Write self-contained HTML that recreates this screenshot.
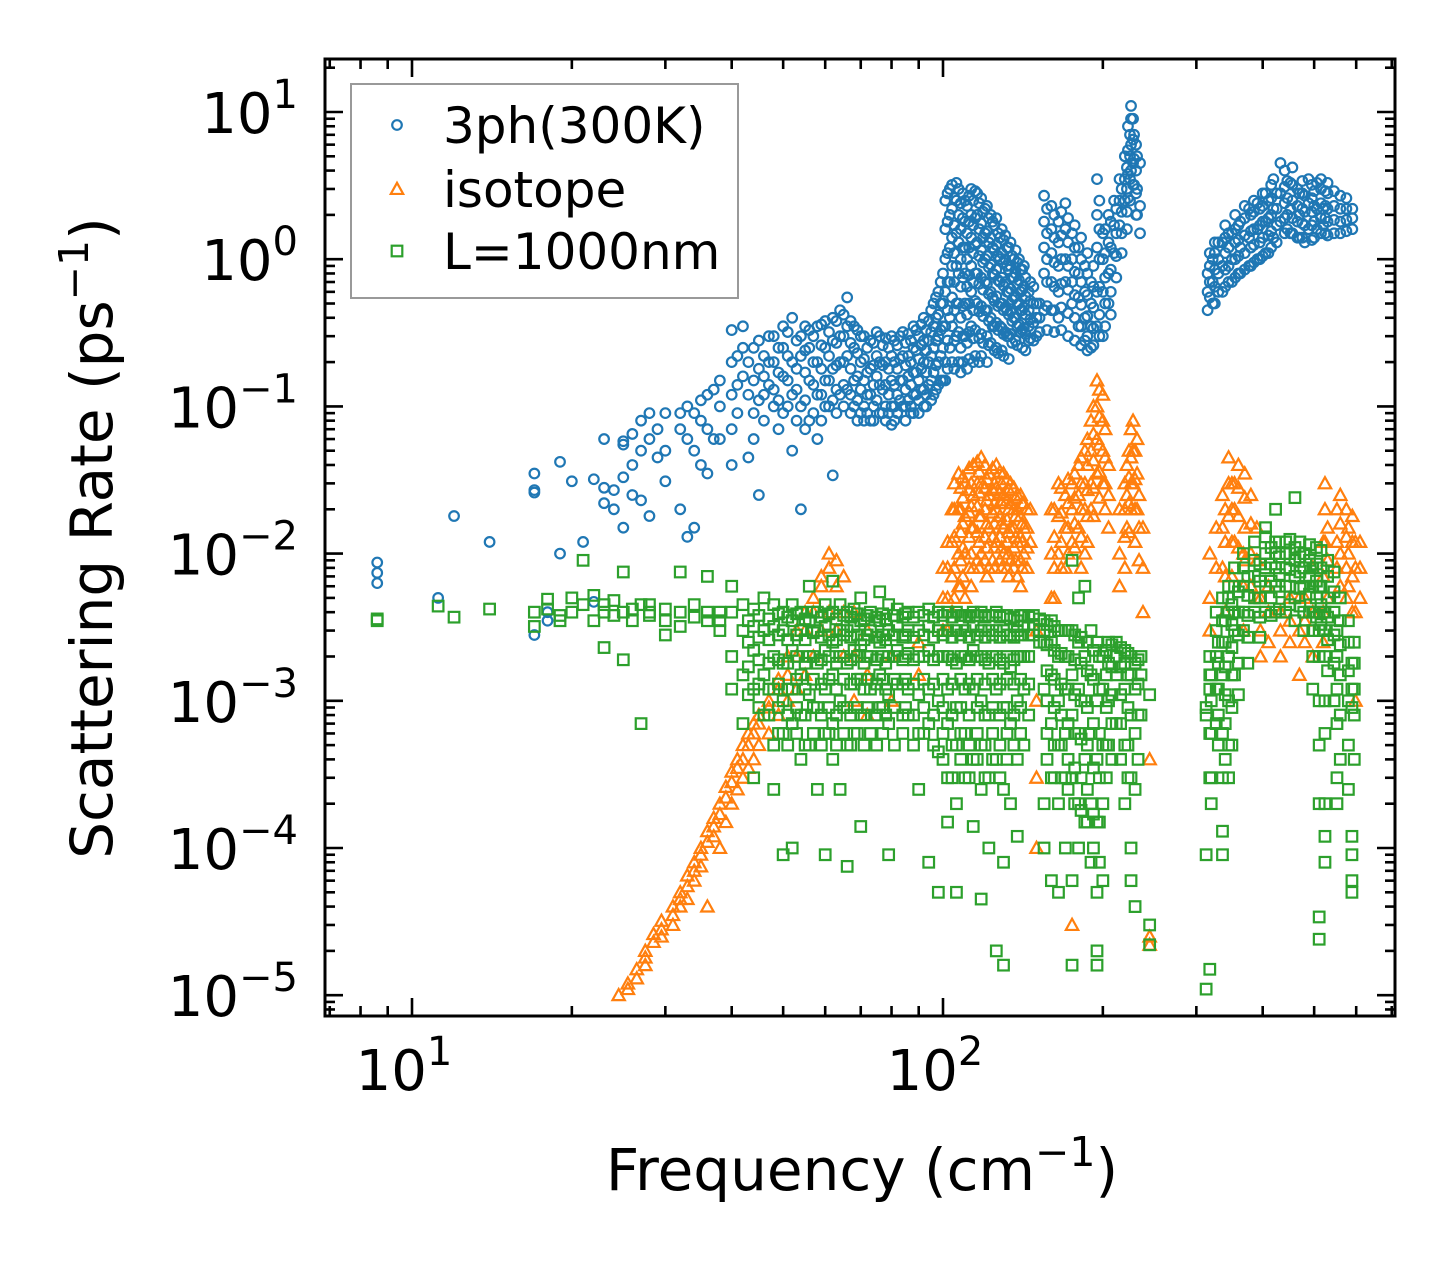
<!DOCTYPE html>
<html><head><meta charset="utf-8"><style>
html,body{margin:0;padding:0;background:#fff;}
svg{display:block;font-family:"DejaVu Sans","Liberation Sans",sans-serif;}
</style></head><body>
<svg id="chart" width="1455" height="1265" viewBox="0 0 1455 1265" xmlns="http://www.w3.org/2000/svg">
<g id="marks"></g>
<g id="axes"></g>
</svg>
<script>
// ---- data: frequencies (cm^-1) and scattering rates (ps^-1) per frequency column ----
const blueF = [8.6,11.2,12,14,17,18,19,20,21,22,23,24,25,26,27,28,29,30,32,33,34,35,36,37,38,40,41,42,43,45,47,50,52,54,56,58,60,62,64,66,68,70,73,76,80,84,88,92,96,100,103,106,110,113,116,120,124,128,132,136,140,145,150,155,160,165,170,175,180,185,190,195,200,205,210,215,220,223,226,229,232,235,315,322,336,350,363,377,391,405,419,432,451,469,488,506,520];
const blueR = [[0.0087,0.0074,0.0063],[0.005],[0.018],[0.012],[0.026,0.027,0.035,0.0028],[0.004,0.0035],[0.042,0.01],[0.031],[0.012],[0.032,0.0047],[0.06,0.028,0.022],[0.02,0.027],[0.055,0.058,0.033,0.015],[0.065,0.04,0.025],[0.08,0.05,0.023],[0.09,0.06,0.018],[0.07,0.045],[0.09,0.05,0.031],[0.09,0.07,0.02],[0.1,0.06,0.013],[0.09,0.05,0.015],[0.11,0.08,0.04],[0.12,0.07,0.035],[0.13,0.06],[0.15,0.1,0.06],[0.33,0.2,0.12,0.07,0.04],[0.22,0.14,0.09],[0.35,0.25,0.16],[0.2,0.12,0.045],[0.28,0.18,0.11,0.025],[0.3,0.2,0.14],[0.35,0.25,0.16,0.09],[0.4,0.2,0.12,0.05],[0.3,0.22,0.1,0.02],[0.33,0.25,0.15,0.08],[0.35,0.2,0.12,0.06],[0.38,0.25,0.15,0.1],[0.4,0.28,0.18,0.11,0.034],[0.45,0.3,0.2,0.12],[0.55,0.35,0.22,0.13],[0.35,0.25,0.15,0.1],[0.3,0.2,0.13,0.09],[0.28,0.18,0.12,0.08],[0.3,0.2,0.14,0.09],[0.3,0.22,0.15,0.1,0.075],[0.32,0.22,0.15,0.1],[0.35,0.25,0.17,0.12,0.09],[0.4,0.28,0.2,0.13,0.1],[0.5,0.35,0.25,0.17,0.12],[0.8,0.5,0.35,0.25,0.15],[3.0,2.0,1.2,0.7,0.4,0.25],[3.3,2.5,1.5,0.9,0.5,0.3],[2.5,1.8,1.2,0.8,0.5,0.3],[3.0,2.0,1.4,0.9,0.6,0.35],[2.8,2.0,1.3,0.8,0.5],[2.2,1.5,1.0,0.7,0.45],[1.8,1.2,0.8,0.55,0.35],[1.4,1.0,0.7,0.5,0.35],[1.2,0.9,0.6,0.45,0.3],[1.0,0.75,0.55,0.4],[0.85,0.6,0.45,0.32],[0.6,0.45,0.35,0.28],[0.5,0.4,0.3],[2.7,1.8,1.2,0.8,0.45],[2.3,1.6,1.1,0.7,0.45],[1.8,1.3,0.9,0.6,0.4],[2.4,1.6,1.0,0.7],[1.5,1.0,0.7,0.5],[1.2,0.8,0.55,0.35],[0.9,0.6,0.4,0.28],[0.7,0.5,0.35,0.25],[3.5,2.0,1.2,0.6,0.35],[1.5,1.0,0.6,0.3],[2.0,1.3,0.8,0.5],[2.5,1.7,1.1],[3.5,2.5,1.7],[5.0,3.5,2.5],[8,5.5,3.8,2.6],[11,9,6,4],[7,4.8,3.2],[5,3,2],[4.5,2.3,1.5],[0.45,0.6,0.8],[0.5,0.7,1.0],[0.6,0.9,1.3],[0.7,1.0,1.5],[0.8,1.2,1.8],[0.9,1.4,2.2],[1.0,1.6,2.4],[1.1,1.8,2.8],[1.4,2.2,3.5],[1.8,2.8,4.5],[1.5,2.2,3.3],[1.4,2.0,2.8],[1.6,2.4,3.5],[1.6,2.2,3.3],[1.7,2.2]];
const blueF2 = [44,46,48,49,51,53,55,57,59,61,63,65,67,69,71,72,74,75,77,78,79,81,82,83,85,86,87,89,90,91,93,94,95,97,98,99,101,102,104,105,107,108,109,111,112,114,115,117,118,119,121,122,123,125,126,127,129,130,131,133,134,135,137,138,139,141,142,143,146,148,152,157,162,167,172,177,182,187,192,197,202,207,212,217,222,225,228,231,318,325,330,340,345,355,360,370,380,385,395,400,410,415,425,440,445,455,465,475,480,495,500,515,525,530,545,560,575,590];
const blueR2 = [[0.25,0.15,0.09,0.06],[0.22,0.16,0.12,0.08],[0.3,0.2,0.13,0.1],[0.25,0.17,0.11,0.07],[0.32,0.22,0.15,0.1],[0.28,0.18,0.13,0.08],[0.35,0.24,0.17,0.11,0.07],[0.3,0.2,0.14,0.09],[0.36,0.26,0.18,0.12,0.08],[0.32,0.22,0.15,0.1],[0.38,0.27,0.19,0.13,0.09],[0.42,0.3,0.2,0.14,0.1],[0.38,0.27,0.18,0.12,0.09],[0.33,0.23,0.16,0.11,0.08],[0.3,0.21,0.15,0.1,0.08],[0.25,0.17,0.12,0.09],[0.27,0.19,0.14,0.1,0.08],[0.32,0.22,0.16,0.11],[0.26,0.19,0.13,0.09],[0.29,0.2,0.14,0.1,0.08],[0.25,0.18,0.12,0.09],[0.28,0.2,0.14,0.1,0.08],[0.26,0.18,0.12,0.09],[0.3,0.21,0.15,0.11],[0.27,0.19,0.13,0.1,0.08],[0.31,0.22,0.16,0.11],[0.28,0.2,0.14,0.1,0.09],[0.33,0.24,0.17,0.12],[0.3,0.21,0.15,0.11,0.09],[0.36,0.26,0.18,0.13],[0.33,0.24,0.17,0.12,0.1],[0.38,0.28,0.2,0.14],[0.45,0.32,0.22,0.15,0.11],[0.55,0.4,0.28,0.19,0.13],[0.6,0.42,0.3,0.2,0.14],[0.7,0.5,0.33,0.22,0.15],[2.5,1.6,1.0,0.6,0.35,0.2,0.15],[2.8,1.8,1.1,0.7,0.45,0.28,0.18],[3.2,2.2,1.4,0.9,0.55,0.35,0.2],[2.6,1.7,1.1,0.7,0.45,0.28,0.18],[3.0,2.0,1.3,0.8,0.5,0.32,0.2],[2.4,1.6,1.0,0.65,0.4,0.25,0.17],[2.8,1.9,1.2,0.75,0.48,0.3,0.2],[2.3,1.5,1.0,0.65,0.42,0.27,0.18],[2.7,1.8,1.2,0.78,0.5,0.32,0.21],[2.5,1.7,1.1,0.7,0.45,0.29,0.2],[2.9,1.9,1.25,0.8,0.52,0.33,0.22],[2.4,1.6,1.05,0.68,0.44,0.29,0.2],[2.6,1.75,1.15,0.75,0.48,0.31,0.22],[2.1,1.4,0.95,0.62,0.41,0.27],[2.3,1.55,1.05,0.68,0.45,0.3,0.2],[1.9,1.3,0.88,0.58,0.38,0.26],[2.0,1.4,0.92,0.6,0.4,0.27],[1.7,1.15,0.78,0.52,0.35,0.24],[1.9,1.25,0.85,0.56,0.37,0.25],[1.5,1.05,0.72,0.48,0.33,0.23],[1.6,1.1,0.75,0.5,0.34,0.24],[1.35,0.95,0.66,0.45,0.31,0.22],[1.45,1.0,0.7,0.47,0.32],[1.2,0.85,0.6,0.42,0.3,0.21],[1.3,0.9,0.63,0.44,0.31],[1.05,0.75,0.53,0.38,0.27],[1.15,0.8,0.56,0.4,0.28],[0.95,0.68,0.49,0.35,0.26],[1.0,0.72,0.5,0.36],[0.85,0.62,0.45,0.33,0.25],[0.9,0.65,0.47,0.34],[0.75,0.56,0.42,0.31,0.24],[0.7,0.52,0.39,0.29],[0.65,0.5,0.37,0.28],[0.5,0.4,0.32],[2.2,1.5,1.0,0.7,0.48,0.33],[2.0,1.4,0.95,0.65,0.45,0.32],[2.1,1.45,1.0,0.68,0.47,0.33],[1.9,1.3,0.9,0.62,0.43,0.3],[1.7,1.2,0.82,0.57,0.4,0.28],[1.4,1.0,0.7,0.49,0.35,0.26],[1.1,0.8,0.57,0.41,0.3,0.24],[0.9,0.65,0.47,0.34,0.26],[2.5,1.6,1.0,0.65,0.42,0.3],[1.6,1.1,0.75,0.5,0.35],[1.8,1.2,0.85,0.6,0.42],[2.2,1.5,1.05,0.75],[3.0,2.1,1.5,1.1],[4.2,3.0,2.1,1.6],[7,5,3.5,2.5],[9,6.5,4.5,3.2],[6,4,2.8,2.0],[0.55,0.7,0.9,1.1],[0.5,0.65,0.85,1.1,1.3],[0.6,0.8,1.0,1.3],[0.65,0.85,1.1,1.4,1.7],[0.7,0.9,1.2,1.5],[0.75,1.0,1.3,1.6,2.0],[0.8,1.05,1.35,1.7],[0.85,1.1,1.45,1.9,2.3],[0.9,1.2,1.55,2.0],[0.95,1.25,1.6,2.1,2.5],[1.0,1.3,1.7,2.2],[1.05,1.4,1.8,2.3,2.8],[1.1,1.45,1.9,2.5],[1.2,1.55,2.0,2.6,3.2],[1.3,1.7,2.2,2.8],[1.5,1.9,2.4,3.1,4.0],[1.6,2.0,2.6,3.4],[1.5,1.9,2.5,3.2,4.2],[1.4,1.8,2.3,3.0],[1.4,1.75,2.2,2.8,3.4],[1.3,1.7,2.1,2.7],[1.35,1.7,2.1,2.6,3.2],[1.4,1.8,2.3,2.9],[1.5,1.9,2.4,3.0,3.5],[1.5,1.9,2.3,2.9],[1.45,1.8,2.2,2.8,3.3],[1.5,1.85,2.3,2.9],[1.5,1.8,2.2,2.7],[1.55,1.85,2.2,2.6],[1.6,1.9,2.2]];

const orangeF = [24.5,25.5,26.5,27.5,28.5,29.5,31,32,33,34,35,36,37,38,39,40,41,42,43,44,45,47,49,51,53,55,57,59,61,63,65,68,72,80,90,100,104,107,110,114,118,122,126,130,134,138,142,146,150,160,165,170,175,180,185,190,195,200,205,215,222,228,232,238,245,318,327,336,345,354,368,396,432,469,497,524,552,580,598];
const orangeR = [[1e-5],[1.2e-5,1.1e-5],[1.5e-5,1.3e-5],[1.8e-5,2e-5,1.6e-5],[2.3e-5,2.6e-5],[2.8e-5,3.2e-5,2.5e-5],[3.5e-5,4e-5,3e-5],[4.5e-5,5e-5,4e-5],[5.5e-5,6.5e-5,4.5e-5],[7e-5,8e-5,6e-5],[9e-5,1e-4,7.5e-5],[1.1e-4,1.3e-4,4e-5],[1.4e-4,1.6e-4,1.2e-4],[1.7e-4,2e-4,1e-4],[2.2e-4,2.6e-4,1.5e-4],[2.8e-4,3.3e-4,2e-4],[3.5e-4,4e-4,2.5e-4],[4e-4,5e-4,3e-4],[5e-4,6e-4,3.5e-4],[6e-4,7e-4,4e-4],[7e-4,8e-4,5e-4],[9e-4,1e-3,6e-4],[1.2e-3,1.4e-3,8e-4],[1.5e-3,2e-3,1e-3],[2e-3,3e-3,1.2e-3],[3e-3,4e-3,1.5e-3],[4e-3,5e-3,2e-3],[6e-3,7e-3,3e-3],[8e-3,1e-2,4e-3],[9e-3,6e-3,3e-3],[7e-3,4e-3,2e-3],[4e-3,2e-3,1e-3],[3e-3,1.5e-3,8e-4],[2e-3,1e-3],[1.5e-3,2.5e-3],[3e-3,5e-3,8e-3],[0.02,0.012,0.007,0.004],[0.035,0.02,0.01,0.006],[0.03,0.018,0.01,0.005],[0.04,0.025,0.015,0.008],[0.045,0.03,0.018,0.01],[0.035,0.025,0.015,0.008],[0.04,0.028,0.02,0.012],[0.035,0.025,0.015,0.01],[0.03,0.022,0.015,0.009],[0.025,0.02,0.012,0.007],[0.022,0.015,0.01],[0.02,0.012],[1e-3,3e-3,3e-4,1e-4],[0.005,0.01,0.02],[0.03,0.018,0.01],[0.025,0.015,0.008],[0.03,0.02,0.012,3e-5],[0.04,0.025,0.015],[0.05,0.03,0.02,0.01],[0.08,0.05,0.03,0.02],[0.15,0.1,0.06,0.035],[0.12,0.08,0.05,0.03],[0.04,0.025,0.015],[0.02,0.01,0.006],[0.04,0.025,0.015],[0.08,0.05,0.03],[0.06,0.035,0.02],[0.015,0.008,0.004],[4e-4,2.5e-5,2.2e-5],[0.01,0.005,0.003],[0.015,0.008],[0.025,0.015,0.008],[0.045,0.03,0.018],[0.03,0.02,0.012],[0.01,0.006,0.003],[0.005,0.003,0.002],[0.004,0.003,0.002],[0.005,0.003,0.0015],[0.008,0.004,0.002],[0.03,0.02,0.012],[0.02,0.012,0.008],[0.015,0.01,0.006],[0.012,0.008,0.004,0.001]];
const orangeF2 = [102,105,108,109,112,113,116,117,120,121,124,125,128,129,132,133,136,137,140,141,144,162,167,172,177,182,187,192,197,202,220,224,226,230,234,340,350,360,370,380,390,410,450,480,520,530,560,575,590,610];
const orangeR2 = [[0.012,0.008,0.005,0.003],[0.03,0.02,0.013,0.008,0.005],[0.028,0.02,0.014,0.009,0.006],[0.033,0.024,0.016,0.011,0.007],[0.038,0.027,0.019,0.013,0.008],[0.03,0.021,0.015,0.01,0.006],[0.042,0.03,0.021,0.014,0.009],[0.036,0.026,0.018,0.012,0.008],[0.04,0.028,0.02,0.013,0.009],[0.032,0.023,0.016,0.011,0.007],[0.038,0.027,0.019,0.013,0.009],[0.03,0.022,0.016,0.011,0.008],[0.036,0.026,0.018,0.013,0.009],[0.03,0.022,0.016,0.011,0.008],[0.032,0.023,0.017,0.012,0.008],[0.027,0.02,0.014,0.01,0.007],[0.028,0.02,0.015,0.011,0.008],[0.024,0.018,0.013,0.009],[0.025,0.018,0.013,0.009,0.006],[0.022,0.016,0.012,0.008],[0.02,0.015,0.011,0.008],[0.02,0.013,0.008,0.005],[0.028,0.019,0.012,0.008],[0.032,0.022,0.015,0.01],[0.035,0.024,0.016,0.011],[0.045,0.03,0.02,0.013,0.008],[0.06,0.04,0.027,0.018,0.012],[0.1,0.065,0.043,0.028,0.018],[0.13,0.085,0.055,0.036,0.024],[0.07,0.045,0.03,0.02],[0.03,0.02,0.013,0.008],[0.05,0.033,0.022,0.014],[0.07,0.045,0.03,0.02],[0.05,0.032,0.02,0.012],[0.025,0.015,0.009],[0.02,0.012,0.007,0.004],[0.03,0.02,0.012,0.007],[0.04,0.028,0.018,0.011],[0.035,0.024,0.015,0.009],[0.025,0.016,0.01,0.006],[0.015,0.009,0.005],[0.006,0.004,0.0025],[0.005,0.0035,0.0025],[0.005,0.0035,0.0025],[0.012,0.007,0.004,0.0025],[0.015,0.009,0.005],[0.025,0.016,0.01,0.006],[0.02,0.013,0.008,0.005],[0.018,0.012,0.007,0.004],[0.012,0.008,0.005]];

const greenF = [8.6,11.2,12,14,17,18,19,20,21,22,23,24,25,26,27,28,30,32,34,36,38,40,42,44,46,48,50,52,54,56,58,60,62,64,66,68,70,73,76,79,82,86,90,94,98,102,106,110,114,118,122,126,130,134,138,142,148,155,160,165,170,175,180,185,190,195,200,205,212,220,226,230,236,245,313,318,327,336,345,354,368,386,405,423,442,460,478,497,511,524,552,589];
const greenR = [[0.0036,0.0035],[0.0044],[0.0037],[0.0042],[0.0032,0.004],[0.0049,0.0042],[0.0038,0.0035],[0.005,0.004],[0.009,0.0045],[0.0035,0.0052],[0.0023,0.0045,0.004],[0.0048,0.0038],[0.0075,0.0019,0.004],[0.0042,0.0035],[0.0007,0.0045],[0.0045,0.004,0.0038],[0.0042,0.0028,0.0035],[0.0075,0.004,0.0032],[0.0045,0.0037],[0.007,0.004,0.0035],[0.004,0.0035,0.003],[0.006,0.004,0.002,0.0012],[0.0045,0.003,0.0015,0.0007],[0.0042,0.0032,0.0022,0.0012,3e-4],[0.005,0.003,0.0015,8e-4],[0.0045,0.0032,0.002,0.0012,5e-4,2.5e-4],[0.004,0.003,0.0018,0.001,6e-4,9e-5],[0.0045,0.0035,0.0022,0.0012,7e-4,1e-4],[0.004,0.003,0.0015,8e-4,4e-4],[0.006,0.0035,0.002,0.0011,5e-4],[0.004,0.003,0.0018,9e-4,2.5e-4],[0.0045,0.0032,0.0022,0.0012,6e-4,9e-5],[0.0065,0.004,0.0025,0.0015,7e-4,4e-4],[0.0045,0.003,0.002,0.001,2.5e-4],[0.004,0.003,0.0018,9e-4,5e-4,7.5e-5],[0.0042,0.0032,0.0022,0.0013,6e-4],[0.005,0.0035,0.0024,0.0014,8e-4,1.4e-4],[0.004,0.003,0.002,0.0012,6e-4],[0.0055,0.0035,0.0025,0.0015,9e-4],[0.0045,0.003,0.002,0.0011,7e-4,9e-5],[0.0042,0.0032,0.0022,0.0013],[0.004,0.003,0.0021,0.0012,8e-4],[0.004,0.003,0.002,0.0011,6e-4,2.5e-4],[0.0042,0.0032,0.0022,0.0012,7e-4,8e-5],[0.004,0.003,0.002,0.001,4.5e-4,5e-5],[0.004,0.003,0.002,0.0012,7e-4,3e-4,1.5e-4],[0.004,0.003,0.0018,9e-4,5e-4,2e-4,5e-5],[0.0038,0.003,0.002,0.0012,6e-4,3e-4],[0.004,0.0032,0.0022,0.0012,4e-4,1.4e-4],[0.004,0.003,0.002,0.001,5e-4,2.5e-4,4.5e-5],[0.0038,0.003,0.0018,8e-4,3e-4,1e-4],[0.004,0.003,0.002,0.0012,4e-4,2e-5],[0.0038,0.003,0.0018,9e-4,2.5e-4,8e-5,1.6e-5],[0.0036,0.0028,0.0017,7e-4,2e-4],[0.0035,0.003,0.002,0.001,4e-4,1.2e-4],[0.0038,0.0032,0.002,0.0012,5e-4],[0.0038,0.0033,0.0028],[0.0035,0.003,0.0025,0.0012,2e-4,1e-4],[0.0035,0.0025,0.0015,7e-4,3e-4,6e-5],[0.003,0.002,0.001,5e-4,2e-4,5e-5],[0.003,0.002,0.0012,6e-4,3e-4,1e-4],[0.009,0.003,0.0015,8e-4,3e-4,6e-5,1.6e-5],[0.005,0.0025,0.0012,6e-4,2e-4,1e-4],[0.006,0.002,0.001,4e-4,1.5e-4],[0.003,0.0015,6e-4,2e-4,8e-5],[0.0025,0.001,4e-4,1.5e-4,5e-5,2e-5,1.6e-5],[0.002,0.0012,5e-4,2e-4,6e-5],[0.0025,0.0018,0.001,5e-4],[0.0025,0.002,0.0015,7e-4],[0.0022,0.0018,0.0012,5e-4,2e-4],[0.002,0.0015,8e-4,3e-4,1e-4,6e-5],[0.0018,0.0012,6e-4,2.5e-4,4e-5],[0.002,0.0015,8e-4],[1.1e-3,3e-5,2.2e-5],[9e-4,8e-4,1.1e-5,9e-5],[0.002,0.0015,0.0012,6e-4,3e-4,1.5e-5],[0.004,0.003,0.002,0.0012,7e-4],[0.005,0.0035,0.0025,0.0015,6e-4,3e-4,1.3e-4,9e-5],[0.006,0.005,0.004,0.002,0.001,5e-4,3e-4],[0.008,0.006,0.004,0.003,0.0015],[0.01,0.008,0.006,0.004,0.003],[0.012,0.009,0.007,0.005,0.004],[0.013,0.01,0.008,0.006,0.004,0.015],[0.012,0.01,0.008,0.006,0.004,0.02],[0.012,0.01,0.008,0.006,0.004],[0.011,0.009,0.007,0.005,0.0035,0.024],[0.01,0.008,0.006,0.004,0.003],[0.008,0.006,0.004,0.003,0.002,0.0012],[0.006,0.004,0.003,0.002,0.001,5e-4,2e-4,3.4e-5,2.4e-5],[0.004,0.003,0.002,0.001,6e-4,2e-4,1.2e-4,8e-5],[0.003,0.002,0.0012,7e-4,3e-4,2e-4],[0.0018,0.0012,9e-4,1.2e-4,9e-5,6e-5,5e-5]];
const greenF2 = [43,45,47,49,51,53,55,57,59,61,63,65,67,69,71,72,75,77,78,81,84,85,88,92,96,100,104,108,112,116,120,124,128,132,136,140,145,152,157,162,167,172,177,182,187,192,197,203,208,216,223,233,320,330,340,350,360,375,395,415,430,450,470,490,505,515,530,545,560,580,595];
const greenR2 = [[0.0035,0.0025,0.0017,0.0011],[0.0038,0.0027,0.0019,0.0013,9e-4],[0.0036,0.0026,0.0018,0.0012,8e-4],[0.0039,0.0028,0.0019,0.0013,9e-4,6e-4],[0.0037,0.0026,0.0018,0.0012,8e-4,5e-4],[0.0039,0.0028,0.002,0.0014,9e-4,6e-4],[0.0036,0.0026,0.0018,0.0012,8e-4,5e-4],[0.004,0.0029,0.002,0.0014,9e-4,6e-4],[0.0037,0.0027,0.0019,0.0013,8e-4,5e-4],[0.0039,0.0028,0.002,0.0014,9e-4,6e-4],[0.0036,0.0026,0.0018,0.0012,8e-4,5e-4],[0.0038,0.0028,0.002,0.0014,9e-4,6e-4],[0.0037,0.0027,0.0019,0.0013,8e-4,5e-4],[0.0039,0.0028,0.002,0.0014,9e-4,6e-4],[0.0036,0.0026,0.0018,0.0012,8e-4,5e-4],[0.0038,0.0028,0.002,0.0014,9e-4],[0.0037,0.0027,0.0019,0.0013,8e-4,5e-4],[0.0039,0.0028,0.002,0.0014,9e-4,6e-4],[0.0036,0.0026,0.0018,0.0012,8e-4],[0.0038,0.0028,0.002,0.0014,9e-4,5e-4],[0.0037,0.0027,0.0019,0.0013,8e-4,6e-4],[0.0039,0.0028,0.002,0.0014,9e-4],[0.0037,0.0027,0.0019,0.0013,8e-4,5e-4],[0.0038,0.0028,0.002,0.0014,9e-4,6e-4],[0.0037,0.0027,0.0019,0.0013,8e-4,5e-4],[0.0038,0.0028,0.002,0.0014,9e-4,6e-4,4e-4],[0.0037,0.0027,0.0019,0.0013,8e-4,5e-4,3e-4],[0.0038,0.0028,0.002,0.0014,9e-4,6e-4,4e-4],[0.0037,0.0027,0.0019,0.0013,8e-4,5e-4,3e-4],[0.0038,0.0028,0.002,0.0014,9e-4,6e-4,4e-4],[0.0037,0.0027,0.0019,0.0013,8e-4,5e-4,3e-4],[0.0038,0.0028,0.002,0.0014,9e-4,6e-4,4e-4],[0.0037,0.0027,0.0019,0.0013,8e-4,5e-4,3e-4],[0.0038,0.0028,0.002,0.0014,9e-4,6e-4,4e-4],[0.0037,0.0027,0.0019,0.0013,8e-4,5e-4],[0.0038,0.0028,0.002,0.0014,9e-4,6e-4],[0.0037,0.0028,0.002,0.0013,8e-4],[0.0036,0.003,0.0025],[0.0033,0.0024,0.0016,0.001,6e-4,4e-4],[0.0032,0.0022,0.0014,9e-4,5e-4,3e-4],[0.003,0.0021,0.0013,8e-4,5e-4,3e-4],[0.003,0.002,0.0012,7e-4,4e-4,2.5e-4],[0.0028,0.0019,0.0011,6e-4,3.5e-4,2e-4],[0.0027,0.0018,0.001,5.5e-4,3e-4,1.8e-4],[0.0025,0.0016,9e-4,5e-4,2.5e-4,1.5e-4],[0.0022,0.0014,7e-4,3.5e-4,1.7e-4,1e-4],[0.002,0.0012,6e-4,3e-4,1.5e-4,8e-5],[0.0022,0.0015,9e-4,5e-4,3e-4],[0.0024,0.0017,0.0011,7e-4,4e-4],[0.0023,0.0017,0.0011,7e-4,4e-4],[0.0021,0.0015,9e-4,5e-4,3e-4],[0.0019,0.0013,8e-4,4e-4],[0.0015,0.001,6e-4,3e-4,2e-4],[0.0025,0.0018,0.0012,8e-4,5e-4],[0.0035,0.0025,0.0017,0.0011,7e-4,4e-4],[0.0045,0.0033,0.0023,0.0015,9e-4,5e-4],[0.0055,0.004,0.0028,0.0018,0.0011],[0.007,0.0052,0.0038,0.0027,0.0018],[0.0085,0.0065,0.005,0.0037,0.0027],[0.011,0.0085,0.0065,0.005,0.0038],[0.012,0.0095,0.0072,0.0055,0.0042],[0.0125,0.01,0.0078,0.006,0.0045],[0.012,0.0095,0.0075,0.0058,0.0044],[0.0115,0.009,0.007,0.0053,0.004],[0.011,0.0085,0.0065,0.005,0.0037],[0.0105,0.008,0.006,0.0045,0.0033],[0.009,0.007,0.005,0.0037,0.0026,0.0016],[0.0075,0.0055,0.004,0.0028,0.0018,0.001],[0.005,0.0035,0.0024,0.0015,8e-4,4e-4],[0.0035,0.0025,0.0016,0.001,5e-4,2.5e-4],[0.0025,0.0018,0.0012,8e-4,4e-4]];

const seriesNames = ["3ph(300K)","isotope","L=1000nm"];
const xTickExps = [1,2];
const yTickExps = [1,0,-1,-2,-3,-4,-5];

// ---- axis functions ----
const PL=325, PR=1395, PT=59, PB=1016;
const X0=412, XDEC=531;
const Y1=112, YDEC=147.2;
function xs(f){ return X0 + (Math.log10(f)-1)*XDEC; }
function ys(r){ return Y1 + (1-Math.log10(r))*YDEC; }

const NS="http://www.w3.org/2000/svg";
function mk(tag, attrs, parent){ const e=document.createElementNS(NS,tag); for(const k in attrs) e.setAttribute(k,attrs[k]); parent.appendChild(e); return e; }
const marks=document.getElementById('marks');
const axes=document.getElementById('axes');

const C=["#1f77b4","#ff7f0e","#2ca02c"];
function circle(x,y,p,c){ return mk('circle',{cx:x,cy:y,r:4.8,fill:'none',stroke:c,'stroke-width':2.2},p); }
function tri(x,y,p,c){ const s=6.2; return mk('polygon',{points:`${x},${y-s} ${x-s},${y+s*0.8} ${x+s},${y+s*0.8}`,fill:'none',stroke:c,'stroke-width':2.2},p); }
function sq(x,y,p,c){ const s=5.3; return mk('rect',{x:x-s,y:y-s,width:2*s,height:2*s,fill:'none',stroke:c,'stroke-width':2.2},p); }

const clip=mk('clipPath',{id:'pc'},document.getElementById('chart'));
mk('rect',{x:PL,y:PT,width:PR-PL,height:PB-PT},clip);
marks.setAttribute('clip-path','url(#pc)');

function drawSeries(F,R,fn,color,name){
  const g=mk('g',{},marks);
  
  
  F.forEach((f,i)=>{ (R[i]||[]).forEach(r=>{
    const m=fn(xs(f),ys(r),g,color);
    
    
  });});
}
drawSeries(blueF,blueR,circle,C[0],'series-3ph');
drawSeries(blueF2,blueR2,circle,C[0],'series-3ph-dense');
drawSeries(orangeF,orangeR,tri,C[1],'series-isotope');
drawSeries(orangeF2,orangeR2,tri,C[1],'series-isotope-dense');
drawSeries(greenF,greenR,sq,C[2],'series-boundary');
drawSeries(greenF2,greenR2,sq,C[2],'series-boundary-dense');

// ---- frame & ticks ----
const frame=mk('rect',{x:PL,y:PT,width:PR-PL,height:PB-PT,fill:'none',stroke:'#000','stroke-width':3},axes);


const tk=mk('g',{stroke:'#000','stroke-width':2.6},axes);


for(let d=0; d<=2; d++){ for(let m=1;m<=9;m++){
  const f=m*Math.pow(10,d); const x=xs(f); if(x<PL+1||x>PR-1) continue;
  const L = m===1?18:10;
  mk('line',{x1:x,y1:PB,x2:x,y2:PB-L},tk); mk('line',{x1:x,y1:PT,x2:x,y2:PT+L},tk);
}}
for(let d=-6; d<=1; d++){ for(let m=1;m<=9;m++){
  const r=m*Math.pow(10,d); const y=ys(r); if(y<PT+1||y>PB-1) continue;
  const L = m===1?18:10;
  mk('line',{x1:PL,y1:y,x2:PL+L,y2:y},tk); mk('line',{x1:PR,y1:y,x2:PR-L,y2:y},tk);
}}
xTickExps.forEach(e=>{
  const t=mk('text',{x:xs(Math.pow(10,e))-8,y:1090,'font-size':56,'text-anchor':'middle',fill:'#000'},axes);
  
  
  t.appendChild(document.createTextNode('10'));
  const s=mk('tspan',{dy:-25,'font-size':40},t); s.textContent=String(e);
});
yTickExps.forEach(e=>{
  const t=mk('text',{x:298,y:ys(Math.pow(10,e))+21,'font-size':56,'text-anchor':'end',fill:'#000'},axes);
  
  
  t.appendChild(document.createTextNode('10'));
  const s=mk('tspan',{dy:-25,'font-size':40},t); s.textContent=(e<0?'\u2212':'')+Math.abs(e);
});
const xt=mk('text',{x:862,y:1190,'font-size':58,'text-anchor':'middle',fill:'#000'},axes);


xt.appendChild(document.createTextNode('Frequency (cm'));
let s1=mk('tspan',{dy:-24,'font-size':41},xt); s1.textContent='\u22121';
let s2=mk('tspan',{dy:24},xt); s2.textContent=')';
const yt=mk('text',{x:0,y:0,'font-size':58,'text-anchor':'middle',fill:'#000',transform:'translate(112,538) rotate(-90)'},axes);


yt.appendChild(document.createTextNode('Scattering Rate (ps'));
let s3=mk('tspan',{dy:-24,'font-size':41},yt); s3.textContent='\u22121';
let s4=mk('tspan',{dy:24},yt); s4.textContent=')';

const lg=mk('g',{},axes);


mk('rect',{x:351,y:84,width:387,height:214,fill:'#fff',stroke:'#999','stroke-width':2},lg);
const fns=[circle,tri,sq]; const rowY=[125,189,251];
seriesNames.forEach((n,i)=>{
  const eg=mk('g',{},lg);
  
  
  fns[i](397,rowY[i],eg,C[i]);
  const t=mk('text',{x:443,y:rowY[i]+18,'font-size':50,fill:'#000'},eg);
  t.textContent=n;
});
</script>
</body></html>
